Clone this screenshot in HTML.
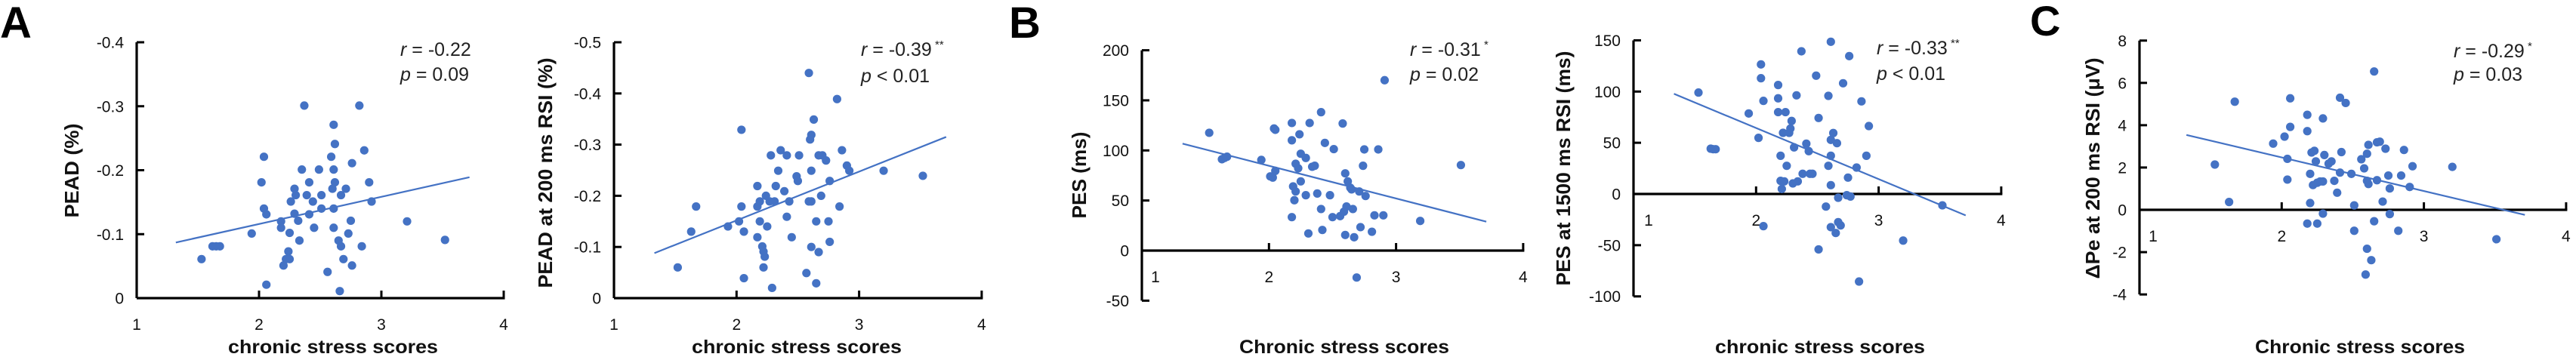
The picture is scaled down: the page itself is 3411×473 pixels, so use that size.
<!DOCTYPE html>
<html><head><meta charset="utf-8">
<style>
html,body{margin:0;padding:0;background:#fff;}
svg{display:block;font-family:"Liberation Sans",Arial,sans-serif;}
</style></head>
<body>
<svg id="fig" width="3411" height="473" viewBox="0 0 3411 473" xmlns="http://www.w3.org/2000/svg">
<text x="0" y="50" font-size="58" font-weight="bold">A</text>
<text x="1336" y="50" font-size="58" font-weight="bold">B</text>
<text x="2688" y="47" font-size="56" font-weight="bold">C</text>
</svg>
<script>
// ---- data ----
const a1X=[1.53,1.62,1.65,1.68,1.94,2.02,2.04,2.04,2.06,2.06,2.18,2.18,2.20,2.22,2.24,2.25,2.25,2.26,2.29,2.30,2.29,2.32,2.33,2.35,2.37,2.39,2.41,2.41,2.44,2.45,2.49,2.51,2.51,2.56,2.59,2.61,2.61,2.62,2.62,2.61,2.61,2.60,2.65,2.66,2.67,2.67,2.69,2.71,2.73,2.75,2.76,2.76,2.82,2.84,2.86,2.90,2.92,3.21,3.52];
const a1Y=[-0.061,-0.081,-0.081,-0.081,-0.101,-0.181,-0.221,-0.140,-0.131,-0.021,-0.120,-0.110,-0.051,-0.061,-0.073,-0.102,-0.061,-0.151,-0.171,-0.161,-0.132,-0.121,-0.090,-0.201,-0.301,-0.161,-0.181,-0.131,-0.151,-0.110,-0.201,-0.161,-0.140,-0.041,-0.221,-0.201,-0.271,-0.181,-0.241,-0.140,-0.110,-0.171,-0.090,-0.011,-0.081,-0.161,-0.061,-0.171,-0.101,-0.121,-0.211,-0.051,-0.301,-0.081,-0.231,-0.181,-0.151,-0.120,-0.091];
const a1FitX=[1.32,3.72];
const a1FitY=[-0.087,-0.189];
const a1YTicks=[0,-0.1,-0.2,-0.3,-0.4];
const a1YTickLabels=["0","-0.1","-0.2","-0.3","-0.4"];

const a2X=[1.52,1.63,1.67,1.93,2.02,2.04,2.04,2.06,2.06,2.17,2.17,2.17,2.19,2.19,2.21,2.22,2.23,2.22,2.24,2.25,2.27,2.28,2.29,2.31,2.32,2.34,2.36,2.39,2.41,2.41,2.43,2.45,2.49,2.50,2.51,2.57,2.59,2.59,2.60,2.61,2.61,2.61,2.61,2.63,2.65,2.65,2.67,2.67,2.69,2.70,2.73,2.75,2.76,2.76,2.82,2.84,2.86,2.90,2.92,3.20,3.52];
const a2Y=[-0.060,-0.130,-0.179,-0.140,-0.150,-0.179,-0.329,-0.130,-0.039,-0.219,-0.119,-0.179,-0.189,-0.150,-0.101,-0.091,-0.081,-0.060,-0.200,-0.140,-0.189,-0.279,-0.020,-0.189,-0.219,-0.249,-0.289,-0.209,-0.279,-0.159,-0.189,-0.119,-0.238,-0.229,-0.279,-0.049,-0.189,-0.440,-0.310,-0.319,-0.189,-0.249,-0.100,-0.349,-0.150,-0.029,-0.090,-0.279,-0.200,-0.279,-0.269,-0.150,-0.229,-0.110,-0.389,-0.179,-0.289,-0.259,-0.249,-0.249,-0.239];
const a2FitX=[1.33,3.71];
const a2FitY=[-0.088,-0.315];
const a2YTicks=[0,-0.1,-0.2,-0.3,-0.4,-0.5];
const a2YTickLabels=["0","-0.1","-0.2","-0.3","-0.4","-0.5"];

const b1X=[1.53,1.63,1.65,1.67,1.94,2.01,2.03,2.04,2.05,2.05,2.18,2.18,2.18,2.19,2.20,2.21,2.21,2.23,2.24,2.25,2.25,2.29,2.29,2.31,2.32,2.34,2.36,2.38,2.41,2.41,2.42,2.44,2.48,2.50,2.51,2.56,2.58,2.59,2.60,2.60,2.61,2.62,2.64,2.65,2.66,2.67,2.69,2.71,2.72,2.74,2.75,2.76,2.81,2.83,2.86,2.90,2.91,3.19,3.51];
const b1Y=[117.6,91.2,92.5,93.7,90.5,74.1,72.9,121.9,120.6,79.6,127.4,110.1,33.4,64.1,50.3,59.0,86.7,82.2,116.1,69.1,96.7,92.5,55.3,17.1,127.4,83.7,84.7,57.0,138.2,41.5,20.6,107.5,55.3,33.4,101.3,34.4,126.9,38.9,77.1,15.6,44.0,69.1,62.8,61.1,41.5,13.3,-26.9,59.0,23.4,84.7,101.0,54.5,18.8,35.2,101.0,35.2,170.1,29.6,85.4];
const b1FitX=[1.32,3.71];
const b1FitY=[106.8,28.9];
const b1YTicks=[-50,0,50,100,150,200];
const b1YTickLabels=["-50","0","50","100","150","200"];

const b2X=[1.53,1.63,1.65,1.67,1.94,2.02,2.04,2.04,2.06,2.06,2.18,2.18,2.18,2.20,2.20,2.21,2.22,2.23,2.24,2.25,2.27,2.28,2.29,2.30,2.31,2.33,2.34,2.37,2.38,2.41,2.43,2.44,2.46,2.49,2.51,2.51,2.57,2.59,2.59,2.61,2.61,2.61,2.61,2.61,2.63,2.65,2.66,2.67,2.67,2.69,2.71,2.74,2.75,2.76,2.77,2.82,2.84,2.86,2.90,2.92,3.20,3.52];
const b2Y=[99.0,44.2,43.7,43.7,78.6,54.8,113.0,126.5,90.9,-31.4,106.4,93.4,79.9,37.3,12.8,4.9,59.7,12.3,79.9,27.5,59.7,63.9,71.3,10.3,45.5,96.3,12.3,139.3,19.7,49.1,41.8,19.7,19.7,115.5,74.2,-54.1,-12.3,27.5,95.8,-32.4,8.6,148.6,37.3,52.8,59.5,-38.1,49.6,-3.7,-27.5,-30.7,108.1,-1.2,16.0,134.6,-2.5,25.8,-85.5,90.4,37.3,66.3,-45.5,-11.1];
const b2FitX=[1.33,3.71];
const b2FitY=[97.8,-20.9];
const b2YTicks=[-100,-50,0,50,100,150];
const b2YTickLabels=["-100","-50","0","50","100","150"];

const cX=[1.53,1.63,1.67,1.94,2.02,2.04,2.04,2.06,2.06,2.18,2.18,2.18,2.20,2.20,2.21,2.22,2.23,2.24,2.25,2.25,2.27,2.29,2.29,2.29,2.30,2.33,2.35,2.37,2.39,2.41,2.41,2.42,2.45,2.49,2.51,2.51,2.56,2.58,2.59,2.60,2.60,2.60,2.61,2.61,2.63,2.65,2.65,2.67,2.67,2.69,2.71,2.73,2.75,2.76,2.76,2.82,2.84,2.86,2.90,2.92,3.20,3.51];
const cY=[2.14,0.37,5.11,3.13,3.46,2.41,1.43,3.92,5.27,4.49,3.72,-0.65,1.70,0.32,2.71,1.17,2.79,2.29,-0.65,1.28,1.34,1.34,4.32,-0.18,2.59,2.18,2.29,1.37,0.81,5.30,1.76,2.73,5.05,1.70,0.21,-0.99,2.39,1.96,-3.06,-1.84,2.65,1.37,3.07,1.22,-2.38,6.54,-0.54,1.40,3.19,3.22,0.39,2.89,1.62,1.01,-0.20,-0.99,1.62,2.83,1.08,2.06,2.03,-1.39];
const cFitX=[1.33,3.71];
const cFitY=[3.54,-0.24];
const cYTicks=[-4,-2,0,2,4,6,8];
const cYTickLabels=["-4","-2","0","2","4","6","8"];

const xTicks=[1,2,3,4];
const xTickLabels=["1","2","3","4"];

// ---- layout (pixel geometry, not data) ----
const NS="http://www.w3.org/2000/svg";
const svg=document.getElementById('fig');
const BLUE="#4472c4";
function el(tag,attrs,parent){const e=document.createElementNS(NS,tag);for(const k in attrs)e.setAttribute(k,attrs[k]);(parent||svg).appendChild(e);return e;}

function panel(id,L,xs,ys,fx,fy,yT,yTL){
  const g=el('g',{});
  
  
  const sx=v=>L.x0+(v-1)*L.xu;
  const sy=v=>L.yz-v*L.yu;
  const yMin=sy(yT[0]), yMax=sy(yT[yT.length-1]);
  const top=Math.min(yMin,yMax), bot=Math.max(yMin,yMax);
  // y axis
  const ya=el('line',{x1:sx(1),x2:sx(1),y1:top,y2:bot,stroke:'#000','stroke-width':3.2},g);
  
  
  yT.forEach((t,i)=>{
    const y=sy(t);
    const tk=el('line',{x1:sx(1),x2:sx(1)+10,y1:y,y2:y,stroke:'#000','stroke-width':3},g);
    
    
    const tl=el('text',{x:sx(1)-17,y:y+7.5,'font-size':21,'text-anchor':'end',fill:'#111'},g);
    tl.textContent=yTL[i];
    
    
  });
  // x axis at value 0
  const ax=sy(0);
  const xa=el('line',{x1:sx(1),x2:sx(4)+1.5,y1:ax,y2:ax,stroke:'#000','stroke-width':3.2},g);
  
  
  xTicks.forEach((t,i)=>{
    const x=sx(t);
    if(i>0){
      const tk=el('line',{x1:x,x2:x,y1:ax,y2:ax-10,stroke:'#000','stroke-width':3},g);
      
      
    }
    const tl=el('text',{x:x+(i===0?L.one:0),y:ax+42,'font-size':21,'text-anchor':'middle',fill:'#111'},g);
    tl.textContent=xTickLabels[i];
    
    
  });
  // fit line
  const fl=el('line',{x1:sx(fx[0]),y1:sy(fy[0]),x2:sx(fx[1]),y2:sy(fy[1]),stroke:BLUE,'stroke-width':2.2},g);
  
  
  // points
  xs.forEach((x,i)=>{
    const c=el('circle',{cx:sx(x),cy:sy(ys[i]),r:5.6,fill:BLUE},g);
    
    
  });
  // axis titles
  const xt=el('text',{x:L.xtx,y:468,'font-size':25,'font-weight':'bold','text-anchor':'middle',textLength:278,lengthAdjust:'spacingAndGlyphs',fill:'#111'},g);
  xt.textContent=L.xtitle;
  
  
  const yt=el('text',{x:0,y:0,'font-size':26,'font-weight':'bold','text-anchor':'middle',textLength:L.ytl,lengthAdjust:'spacingAndGlyphs',fill:'#111',transform:`translate(${L.ytx+9},${L.yty}) rotate(-90)`},g);
  yt.textContent=L.ytitle;
  
  
  // stats
  const r=el('text',{x:L.sx,y:L.sy1+9,'font-size':25,fill:'#222'},g);
  r.innerHTML='<tspan font-style="italic">r</tspan> = '+L.r+(L.star?'<tspan font-size="15" dy="-10"> '+L.star+'</tspan>':'');
  
  
  const p=el('text',{x:L.sx,y:L.sy2+9,'font-size':25,fill:'#222'},g);
  p.innerHTML='<tspan font-style="italic">p</tspan> '+L.p;
  
  
}

panel('pead',{x0:181,xu:162,yz:395,yu:-847.5,one:0,xtx:441,xtitle:'chronic stress scores',ytx:95,yty:226,ytl:125,ytitle:'PEAD (%)',sx:530,sy1:65,sy2:98,r:'-0.22',star:'',p:'= 0.09'},a1X,a1Y,a1FitX,a1FitY,a1YTicks,a1YTickLabels);
panel('pead-200',{x0:813,xu:162.3,yz:395,yu:-678,one:0,xtx:1055,xtitle:'chronic stress scores',ytx:722,yty:229,ytl:305,ytitle:'PEAD at 200 ms RSI (%)',sx:1140,sy1:65,sy2:100,r:'-0.39',star:'**',p:'< 0.01'},a2X,a2Y,a2FitX,a2FitY,a2YTicks,a2YTickLabels);
panel('pes',{x0:1512,xu:168.3,yz:332,yu:1.327,one:18,xtx:1780,xtitle:'Chronic stress scores',ytx:1429,yty:232,ytl:115,ytitle:'PES (ms)',sx:1867,sy1:65,sy2:98,r:'-0.31',star:'*',p:'= 0.02'},b1X,b1Y,b1FitX,b1FitY,b1YTicks,b1YTickLabels);
panel('pes-1500',{x0:2163,xu:162.3,yz:257,yu:1.357,one:20,xtx:2410,xtitle:'chronic stress scores',ytx:2070,yty:223,ytl:311,ytitle:'PES at 1500 ms RSI (ms)',sx:2485,sy1:63,sy2:97,r:'-0.33',star:'**',p:'< 0.01'},b2X,b2Y,b2FitX,b2FitY,b2YTicks,b2YTickLabels);
panel('delta-pe',{x0:2833,xu:188.3,yz:278,yu:28.03,one:18,xtx:3125,xtitle:'Chronic stress scores',ytx:2771,yty:223,ytl:293,ytitle:'ΔPe at 200 ms RSI (μV)',sx:3249,sy1:67,sy2:98,r:'-0.29',star:'*',p:'= 0.03'},cX,cY,cFitX,cFitY,cYTicks,cYTickLabels);
</script>
</body></html>
